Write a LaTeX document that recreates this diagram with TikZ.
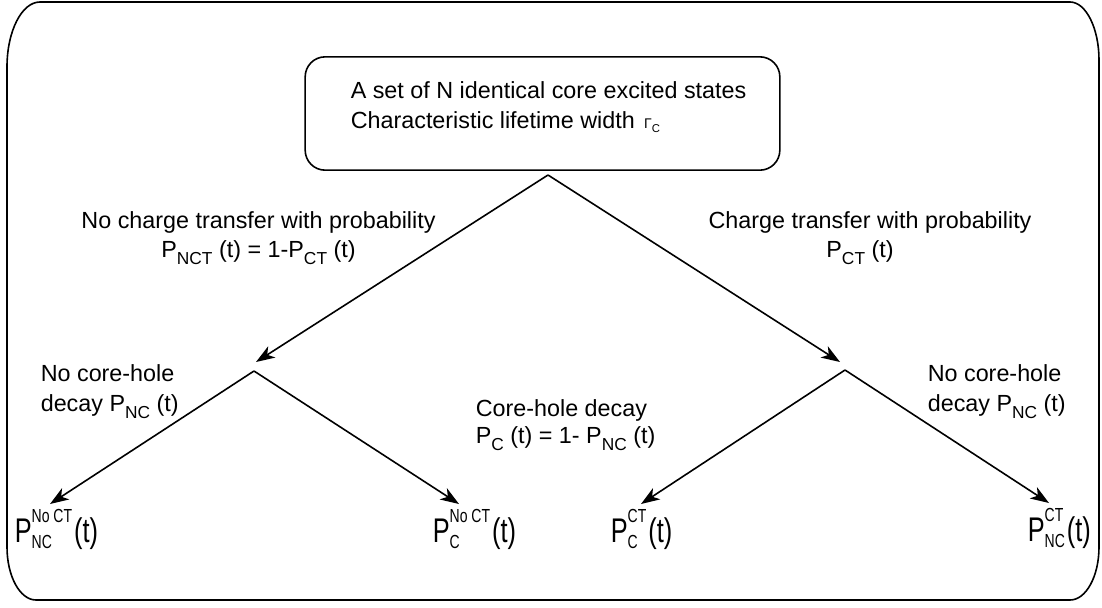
\documentclass[tikz,border=0pt]{standalone}
\usepackage{fontspec}
\setmainfont{Liberation Sans}
\usepackage{graphicx}
\usetikzlibrary{arrows.meta}
\newcommand\sbt[1]{\raisebox{-0.3em}{\fontsize{13}{13}\selectfont #1}}
\newcommand\stk[2]{{\fontsize{10.5}{10.5}\selectfont
  \setbox0=\hbox{#1}\setbox2=\hbox{#2}%
  \dimen0=\wd0 \ifdim\wd2>\dimen0 \dimen0=\wd2 \fi
  \rlap{\raisebox{11pt}{\box0}}\rlap{\raisebox{-3.5pt}{\box2}}\hspace*{\dimen0}}}
\newcommand\bigP[2]{\scalebox{1}[1.35]{\fontsize{19}{19}\selectfont P\stk{#1}{#2}\kern1.5pt(t)}}
\begin{document}
\begin{tikzpicture}[x=0.75pt,y=-0.75pt, line width=1.2pt,
  every node/.style={font=\fontsize{17.5}{22}\selectfont, inner sep=0pt},
  conn/.style={-{Stealth[length=14pt,width=10pt,inset=4pt]}},
  statebox/.style={draw, rounded corners=15pt, minimum width=356pt, minimum height=85pt}]
\useasboundingbox (0,0) rectangle (1102,607);
% outer frame
\draw (40,2) -- (1070,2) .. controls (1086,2) and (1099,28.5) .. (1099,60)
  -- (1099,547) .. controls (1099,576.3) and (1086,600) .. (1070,600)
  -- (36,600) .. controls (20,600) and (7,576.3) .. (7,547)
  -- (7,67) .. controls (7,31.1) and (21.8,2) .. (40,2) -- cycle;
% top box
\node[statebox] (box) at (542.5,113.5) {};
\node[anchor=base west] (bt1) at (350,98) {A set of N identical core excited states};
\node[anchor=base west] (bt2) at (350,128) {Characteristic lifetime width\hspace{7pt}{\fontsize{10.5}{10.5}\selectfont Γ}\raisebox{-3.5pt}{\fontsize{8.5}{8.5}\selectfont C}};
% branch points and arrow tips
\coordinate (a0) at (548,175);
\coordinate (tL) at (256,362);
\coordinate (tR) at (840,362);
\coordinate (aL) at (254,371);
\coordinate (aR) at (845,370);
\coordinate (bLL) at (50,504);
\coordinate (bLR) at (459,504);
\coordinate (bRL) at (641,504);
\coordinate (bRR) at (1049,503);
% connectors
\draw[conn] (a0) -- (tL);
\draw[conn] (a0) -- (tR);
\draw[conn] (aL) -- (bLL);
\draw[conn] (aL) -- (bLR);
\draw[conn] (aR) -- (bRL);
\draw[conn] (aR) -- (bRR);
% labels
\node[anchor=base] (l1a) at (258.5,228) {No charge transfer with probability};
\node[anchor=base] (l1b) at (258.5,257) {P\sbt{NCT} (t) = 1-P\sbt{CT} (t)};
\node[anchor=base] (l2a) at (870,228) {Charge transfer with probability};
\node[anchor=base] (l2b) at (860,257) {P\sbt{CT} (t)};
\node[anchor=base west] (l3a) at (40,381) {No core-hole};
\node[anchor=base west] (l3b) at (40,411) {decay P\sbt{NC} (t)};
\node[anchor=base west] (l4a) at (475,416) {Core-hole decay};
\node[anchor=base west] (l4b) at (475,443) {P\sbt{C} (t) = 1- P\sbt{NC} (t)};
\node[anchor=base west] (l5a) at (927,381) {No core-hole};
\node[anchor=base west] (l5b) at (927,411) {decay P\sbt{NC} (t)};
% bottom results
\node[anchor=base west] (p1) at (14,542) {\bigP{No CT}{NC}};
\node[anchor=base west] (p2) at (432,542) {\bigP{No CT}{C}};
\node[anchor=base west] (p3) at (610,542) {\bigP{CT}{C}};
\node[anchor=base west] (p4) at (1027,541) {\bigP{CT}{NC}};
\end{tikzpicture}
\end{document}
